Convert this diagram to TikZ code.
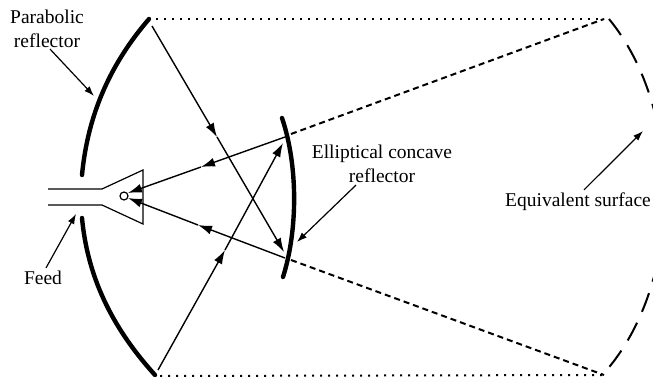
\documentclass[tikz,border=0pt]{standalone}
\usepackage{fontspec}
\setmainfont{Liberation Serif}
\usetikzlibrary{arrows.meta,positioning}
\begin{document}
\begin{tikzpicture}[x=1pt,y=-1pt,
  reflector/.style={line width=4.4pt,line cap=round},
  thin line/.style={line width=1.2pt},
  arr/.style={-{Latex[length=10pt,width=7pt]},line width=1.2pt},
  ray/.style={-{Latex[length=14pt,width=9pt]},line width=1.4pt},
  dotline/.style={line width=2pt,dash pattern=on 2pt off 6pt},
  dashline/.style={line width=2pt,dash pattern=on 6pt off 4pt},
  surface/.style={line width=2pt,dash pattern=on 20pt off 12pt},
  note/.style={font=\fontsize{19.5}{24}\selectfont,align=center,inner sep=0pt}
]
\useasboundingbox (0,0) rectangle (653,377);
\clip (0,0) rectangle (653,377);
% reflectors
\draw[reflector] (149,19) .. controls (112,62) and (88,112) .. (82,175);
\draw[reflector] (82,218) .. controls (88,282) and (116,332) .. (155,375);
\draw[reflector] (282,118) .. controls (298,165) and (298,230) .. (283,277);
% feed
\draw[thin line] (48,189) -- (102,189) -- (143,170) -- (143,224) -- (102,205) -- (48,205);
\node[draw,circle,line width=1.2pt,minimum size=8pt,inner sep=0pt] (focus) at (124,196) {};
% named points of the rays
\coordinate (ptop) at (152,26);
\coordinate (pbot) at (158,370);
\coordinate (etop) at (285,137);
\coordinate (ebot) at (285,258);
\coordinate (htop) at (283,143);
\coordinate (hbot) at (284,252);
\coordinate (midtop) at (217,137);
\coordinate (midbot) at (225,250);
\coordinate (feedtop) at (128,193);
\coordinate (feedbot) at (128,198);
\coordinate (midfeedt) at (201,167);
\coordinate (midfeedb) at (198,225);
% rays
\draw[ray] (ptop) -- (midtop);
\draw[ray] (midtop) -- (hbot);
\draw[ray] (pbot) -- (midbot);
\draw[ray] (midbot) -- (htop);
\draw[ray] (etop) -- (midfeedt);
\draw[ray] (midfeedt) -- (feedtop);
\draw[ray] (ebot) -- (midfeedb);
\draw[ray] (midfeedb) -- (feedbot);
% equivalent surface
\coordinate (stop) at (604,19);
\coordinate (sbot) at (604,375);
\draw[dotline] (156,19) -- (stop);
\draw[dotline] (160,376) -- (sbot);
\draw[dashline] (291,134) -- (stop);
\draw[dashline] (291,260) -- (sbot);
\draw[surface] (609,19) .. controls (684,110) and (684,282) .. (605,372);
% labels
\node[note] (par) at (47,29) {Parabolic\\reflector};
\node[note] (ell) at (382,164) {Elliptical concave\\reflector};
\node[note] (equ) at (578,202) {Equivalent surface};
\node[note] (feed) at (43,278) {Feed};
\coordinate (partip) at (94,96);
\coordinate (elltip) at (297,242);
\coordinate (equtip) at (643,131);
\coordinate (feedtip) at (76,214);
\draw[arr] (par.south) ++(3,1) -- (partip);
\draw[arr] (ell.south) ++(-26,2) -- (elltip);
\draw[arr] (equ.north) ++(6,-3) -- (equtip);
\draw[arr] (feed.north) ++(3,-3) -- (feedtip);
\end{tikzpicture}
\end{document}
